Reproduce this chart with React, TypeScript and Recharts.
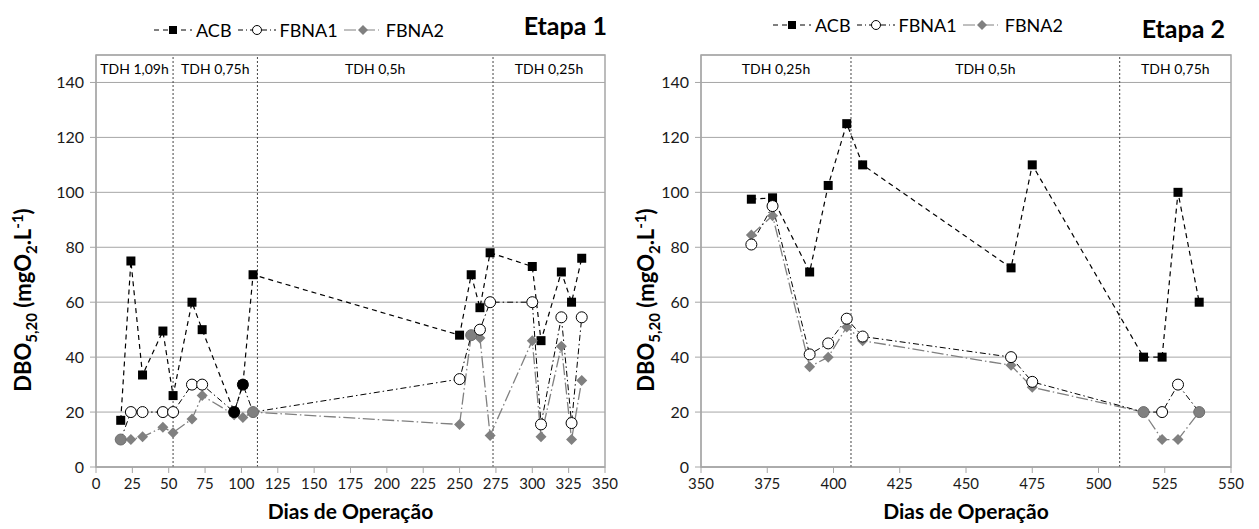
import React from "react"
import {
  LineChart,
  Line,
  XAxis,
  YAxis,
  CartesianGrid,
  Legend,
  ReferenceLine,
  ReferenceArea,
} from "recharts"

// Etapa 1
const stage1Days = [17, 24, 32, 46, 53, 66, 73, 95, 101, 108, 250, 258, 264, 271, 300, 306, 320, 327, 334]
const stage1Acb = [17, 75, 33.5, 49.5, 26, 60, 50, 20, 30, 70, 48, 70, 58, 78, 73, 46, 71, 60, 76]
const stage1Fbna1 = [10, 20, 20, 20, 20, 30, 30, 20, 30, 20, 32, 48, 50, 60, 60, 15.5, 54.5, 16, 54.5]
const stage1Fbna2 = [10, 10, 11, 14.5, 12.5, 17.5, 26, 19, 18, 20, 15.5, 48, 47, 11.5, 46, 11, 44, 10, 31.5]
const stage1Bounds = [0, 53, 111, 273, 350]
const stage1Phases = ["TDH 1,09h", "TDH  0,75h", "TDH 0,5h", "TDH 0,25h"]
const stage1XTicks = [0, 25, 50, 75, 100, 125, 150, 175, 200, 225, 250, 275, 300, 325, 350]

// Etapa 2
const stage2Days = [369, 377, 391, 398, 405, 411, 467, 475, 517, 524, 530, 538]
const stage2Acb = [97.5, 98, 71, 102.5, 125, 110, 72.5, 110, 40, 40, 100, 60]
const stage2Fbna1 = [81, 95, 41, 45, 54, 47.5, 40, 31, 20, 20, 30, 20]
const stage2Fbna2 = [84.5, 91.5, 36.5, 40, 51, 46, 37, 29, 20, 10, 10, 20]
const stage2Bounds = [350, 406.6, 508, 550]
const stage2Phases = ["TDH 0,25h", "TDH 0,5h", "TDH 0,75h"]
const stage2XTicks = [350, 375, 400, 425, 450, 475, 500, 525, 550]

const yTicks = [0, 20, 40, 60, 80, 100, 120, 140]

const FONT = "Lato, 'Open Sans', sans-serif"
const GRID = "#a6a6a6"
const GRAY = "#808080"

const buildRows = (days: number[], acb: number[], fbna1: number[], fbna2: number[]) =>
  days.map((d, i) => ({ day: d, acb: acb[i], fbna1: fbna1[i], fbna2: fbna2[i] }))

const SquareDot = (props: any) => {
  const { cx, cy, index } = props
  if (cx == null || cy == null) return null
  return <rect key={`sq-${index}`} x={cx - 4.5} y={cy - 4.5} width={9} height={9} fill="#000" />
}

const DiamondDot = (props: any) => {
  const { cx, cy, index } = props
  if (cx == null || cy == null) return null
  const r = 5.5
  return (
    <polygon
      key={`dm-${index}`}
      points={`${cx},${cy - r} ${cx + r},${cy} ${cx},${cy + r} ${cx - r},${cy}`}
      fill={GRAY}
    />
  )
}

// circle gets filled when it sits on top of another series' point
const CircleDot = (props: any) => {
  const { cx, cy, index, payload } = props
  if (cx == null || cy == null) return null
  const onFbna2 = payload.fbna1 === payload.fbna2
  const onAcb = payload.fbna1 === payload.acb
  const fill = onFbna2 ? GRAY : onAcb ? "#000" : "#fff"
  const stroke = onFbna2 ? "#6e6e6e" : "#000"
  return <circle key={`ci-${index}`} cx={cx} cy={cy} r={5.5} fill={fill} stroke={stroke} strokeWidth={1} />
}

const LegendBox = () => (
  <div style={{ display: "flex", alignItems: "center", fontFamily: FONT, fontSize: 18, color: "#000" }}>
    <svg width={38} height={14}>
      <line x1={0} y1={7} x2={38} y2={7} stroke="#000" strokeDasharray="5 4" />
      <rect x={15} y={3} width={8} height={8} fill="#000" />
    </svg>
    <span style={{ marginLeft: 4, marginRight: 6 }}>ACB</span>
    <svg width={38} height={14}>
      <line x1={0} y1={7} x2={38} y2={7} stroke="#000" strokeDasharray="5 3 1 3" />
      <circle cx={19} cy={7} r={4.5} fill="#fff" stroke="#000" />
    </svg>
    <span style={{ marginLeft: 4, marginRight: 6 }}>FBNA1</span>
    <svg width={38} height={14}>
      <line x1={0} y1={7} x2={38} y2={7} stroke={GRAY} strokeDasharray="12 3 1 3" />
      <polygon points="19,2 24,7 19,12 14,7" fill={GRAY} />
    </svg>
    <span style={{ marginLeft: 4 }}>FBNA2</span>
  </div>
)

const makeYTitle = (x: number, y: number) => () =>
  (
    <text
      transform={`translate(${x},${y}) rotate(-90)`}
      textAnchor="middle"
      fontFamily={FONT}
      fontWeight="bold"
      fontSize={22}
      fill="#000"
    >
      DBO
      <tspan fontSize={15} dy={6}>5,20</tspan>
      <tspan dy={-6}> (mgO</tspan>
      <tspan fontSize={15} dy={6}>2</tspan>
      <tspan dy={-6}>.L</tspan>
      <tspan fontSize={15} dy={-8}>-1</tspan>
      <tspan dy={8}>)</tspan>
    </text>
  )

type StageProps = {
  rows: any[]
  bounds: number[]
  phases: string[]
  xTicks: number[]
  width: number
  marginLeft: number
  marginRight: number
  title: string
  titleRight: number
  titleTop: number
  legendLeft: number
  legendTop: number
  yTitleX: number
}

function StageChart(p: StageProps) {
  const x0 = p.bounds[0]
  const x1 = p.bounds[p.bounds.length - 1]
  return (
    <div style={{ position: "relative", width: p.width, height: 529 }}>
      <LineChart
        width={p.width}
        height={529}
        data={p.rows}
        margin={{ top: 55, right: p.marginRight, bottom: 28, left: p.marginLeft }}
      >
        <CartesianGrid vertical={false} stroke={GRID} />
        <ReferenceArea x1={x0} x2={x1} y1={0} y2={150} fill="none" stroke={GRID} strokeWidth={1.5} />
        {p.phases.map((name, i) => (
          <ReferenceArea
            key={name}
            x1={p.bounds[i]}
            x2={p.bounds[i + 1]}
            y1={140}
            y2={150}
            fill="none"
            stroke="none"
            label={{ value: name, position: "center", fontSize: 14, fontFamily: FONT, fill: "#000" }}
          />
        ))}
        {p.bounds.slice(1, -1).map((b) => (
          <ReferenceLine key={b} x={b} stroke="#444" strokeDasharray="2 2" strokeWidth={1} />
        ))}
        <XAxis
          dataKey="day"
          type="number"
          domain={[x0, x1]}
          ticks={p.xTicks}
          interval={0}
          height={34}
          stroke={GRID}
          tickSize={6}
          tickMargin={5}
          tick={{ fill: "#1a1a1a", fontSize: 15, fontFamily: FONT }}
          label={{
            value: "Dias de Operação",
            position: "bottom",
            offset: 3,
            fontSize: 21,
            fontWeight: "bold",
            fontFamily: FONT,
            fill: "#000",
          }}
        />
        <YAxis
          type="number"
          domain={[0, 150]}
          ticks={yTicks}
          interval={0}
          width={50}
          stroke={GRID}
          tickSize={6}
          tickMargin={6}
          tick={{ fill: "#1a1a1a", fontSize: 16, fontFamily: FONT }}
          label={{ content: makeYTitle(p.yTitleX, 300) }}
        />
        <Legend
          verticalAlign="middle"
          content={LegendBox}
          wrapperStyle={{ top: p.legendTop, left: p.legendLeft, width: 340, height: 24 }}
        />
        <Line
          dataKey="acb"
          name="ACB"
          type="linear"
          stroke="#000"
          strokeWidth={1.2}
          strokeDasharray="5 4"
          dot={SquareDot}
          activeDot={false}
          isAnimationActive={false}
        />
        <Line
          dataKey="fbna2"
          name="FBNA2"
          type="linear"
          stroke={GRAY}
          strokeWidth={1.3}
          strokeDasharray="12 3 1.5 3"
          dot={DiamondDot}
          activeDot={false}
          isAnimationActive={false}
        />
        <Line
          dataKey="fbna1"
          name="FBNA1"
          type="linear"
          stroke="#000"
          strokeWidth={1}
          strokeDasharray="6 3 1.5 3"
          dot={CircleDot}
          activeDot={false}
          isAnimationActive={false}
        />
      </LineChart>
      <div
        style={{
          position: "absolute",
          right: p.titleRight,
          top: p.titleTop,
          fontFamily: FONT,
          fontWeight: "bold",
          fontSize: 25,
          color: "#000",
        }}
      >
        {p.title}
      </div>
    </div>
  )
}

export default function App() {
  const rows1 = buildRows(stage1Days, stage1Acb, stage1Fbna1, stage1Fbna2)
  const rows2 = buildRows(stage2Days, stage2Acb, stage2Fbna1, stage2Fbna2)
  return (
    <div style={{ position: "absolute", left: 0, top: 0, width: 1259, height: 529, background: "#fff" }}>
      <div style={{ position: "absolute", left: 0, top: 0 }}>
        <StageChart
          rows={rows1}
          bounds={stage1Bounds}
          phases={stage1Phases}
          xTicks={stage1XTicks}
          width={620}
          marginLeft={46}
          marginRight={15}
          title="Etapa 1"
          titleRight={13}
          titleTop={10}
          legendLeft={154}
          legendTop={19}
          yTitleX={31}
        />
      </div>
      <div style={{ position: "absolute", left: 625, top: 0 }}>
        <StageChart
          rows={rows2}
          bounds={stage2Bounds}
          phases={stage2Phases}
          xTicks={stage2XTicks}
          width={634}
          marginLeft={26}
          marginRight={28}
          title="Etapa 2"
          titleRight={34}
          titleTop={13}
          legendLeft={148}
          legendTop={14}
          yTitleX={29}
        />
      </div>
    </div>
  )
}
